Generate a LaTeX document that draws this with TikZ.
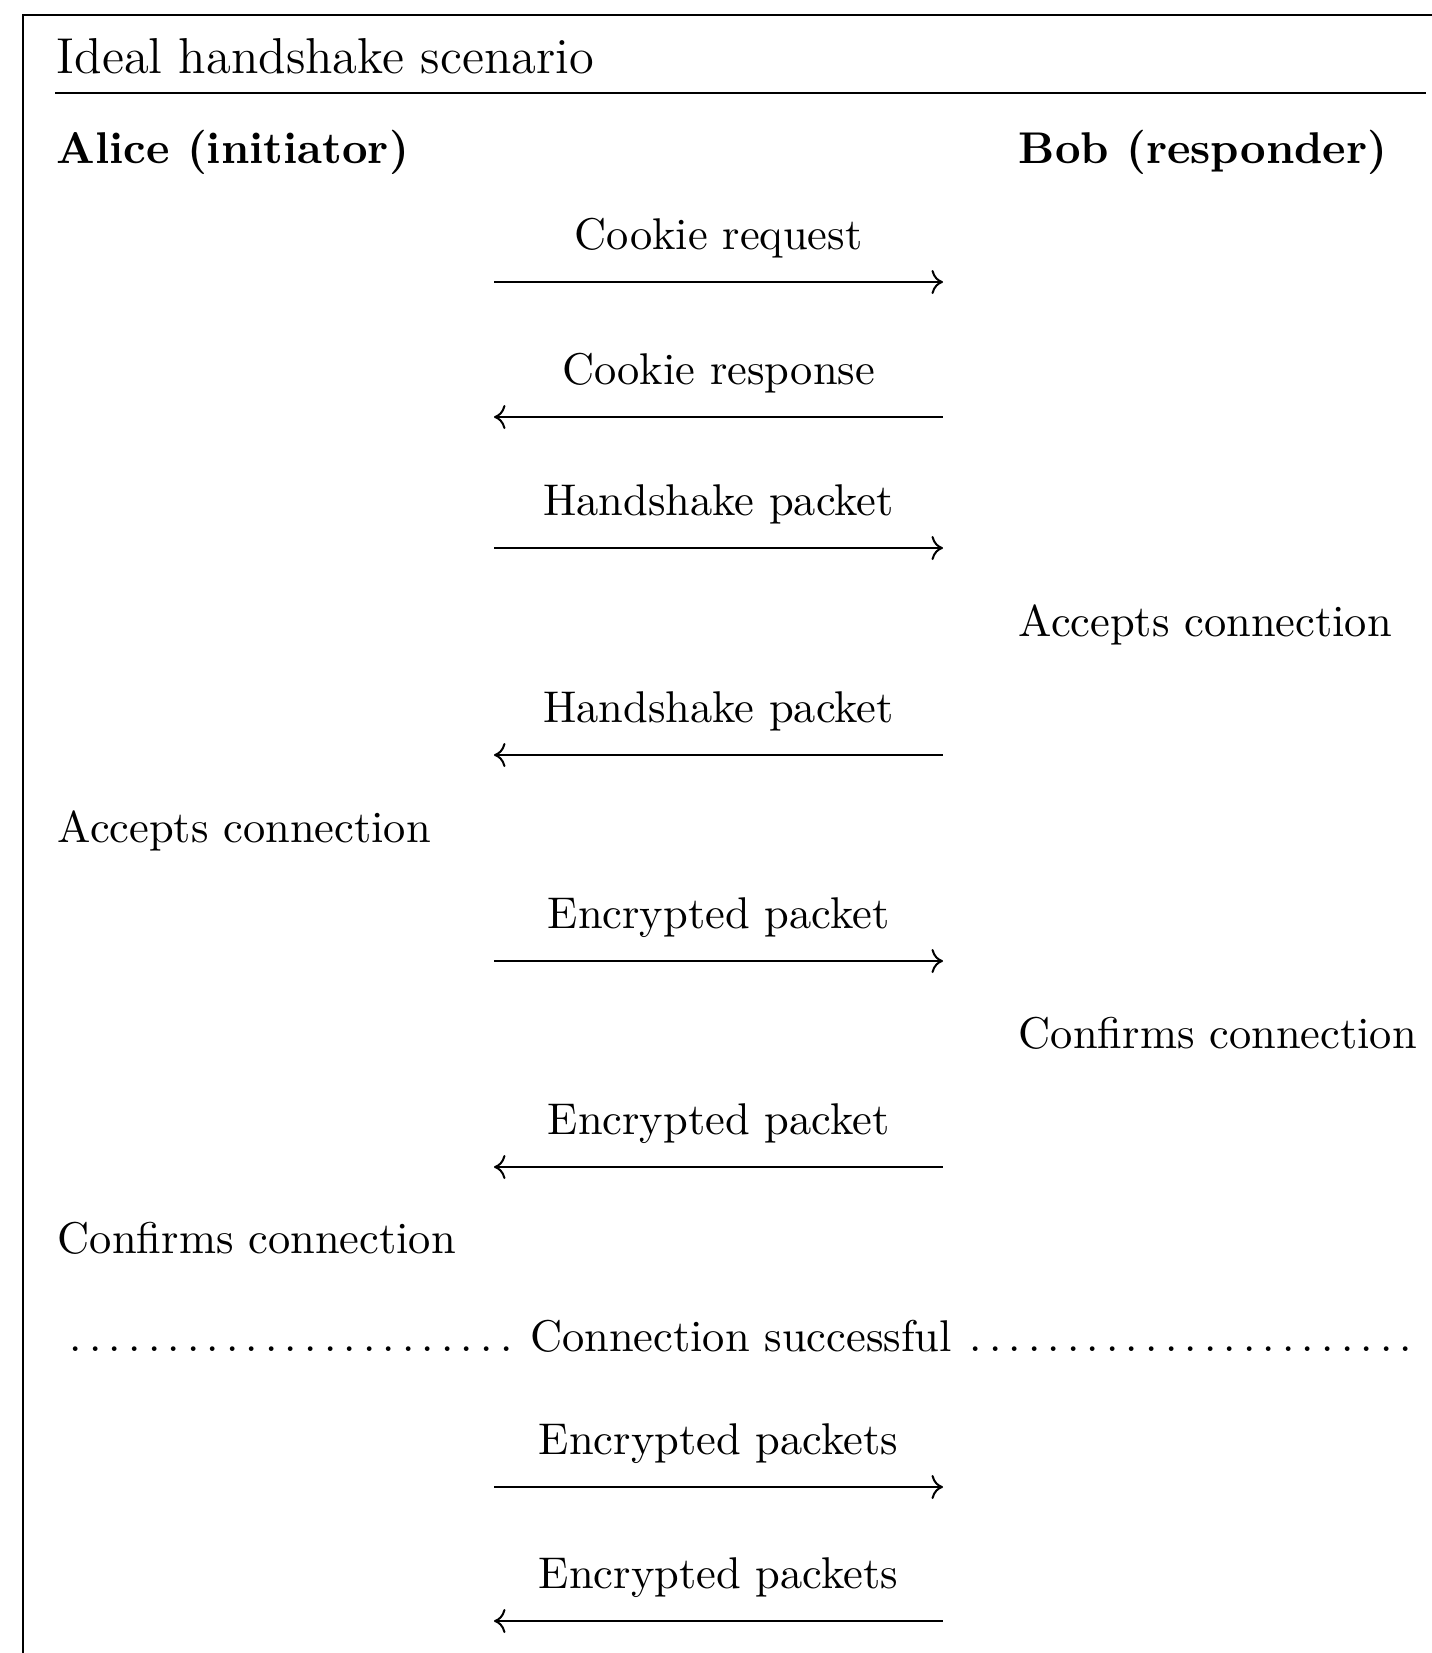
\documentclass[tikz,border=0pt]{standalone}
\usepackage{tikz}
\usetikzlibrary{arrows.meta,positioning}

\begin{document}
\begin{tikzpicture}[
      x=0.225pt,
      y=-0.225pt,
      mytitle/.style={
         anchor=mid west,
         inner sep=0pt,
         font=\fontsize{11.35}{13}\selectfont},
      myhead/.style={
         anchor=mid west,
         inner sep=0pt,
         font=\bfseries},
      mytext/.style={
         anchor=mid west,
         inner sep=0pt},
      mylabel/.style={above=1.8pt},
      myarrow/.style={line width=0.45pt},
      ]
      \useasboundingbox (0,0) rectangle (1432,1653);
      % frame and title
      \draw (23,1700) -- (23,15) -- (1480,15);
      \node[mytitle] (title) at (56,64) {Ideal handshake scenario};
      \draw (55,93) -- (1426,93);
      \node[myhead] (alice) at (56,154) {Alice (initiator)};
      \node[myhead] (bob) at (1018,154) {Bob (responder)};
      % messages
    \foreach \n/\y/\tip/\txt in {
      1/282/->/Cookie request,
      2/417/<-/Cookie response,
      3/548/->/Handshake packet,
      4/755/<-/Handshake packet,
      5/961/->/Encrypted packet,
      6/1167/<-/Encrypted packet,
      7/1487/->/Encrypted packets,
      8/1621/<-/Encrypted packets}
    {
       \coordinate (a\n) at (494,\y);
       \coordinate (b\n) at (943,\y);
       \draw [myarrow,\tip] (a\n) -- node[mylabel] (m\n) {\txt} (b\n);
    }
      \node[mytext] (acceptsB) at (1018,627) {Accepts connection};
      \node[mytext] (acceptsA) at (57,833) {Accepts connection};
      \node[mytext] (confirmsB) at (1018,1039) {Confirms connection};
      \node[mytext] (confirmsA) at (57,1244) {Confirms connection};
      \node[anchor=mid,inner sep=0pt] (success) at (741,1342)
         {\makebox[307pt]{\dotfill\hspace{1.5pt}Connection successful\hspace{1.5pt}\dotfill}};
\end{tikzpicture}
\end{document}
